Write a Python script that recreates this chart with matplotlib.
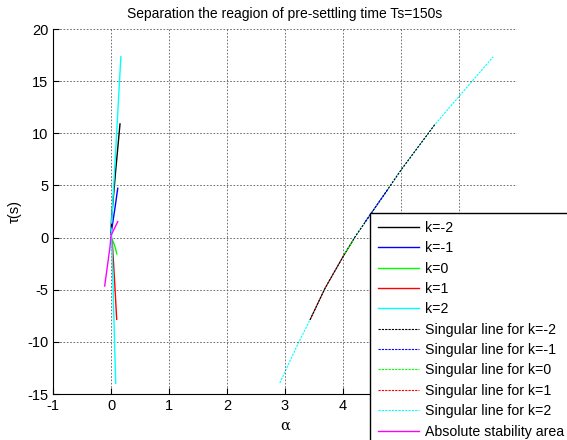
import numpy as np
import matplotlib
matplotlib.use("Agg")
import matplotlib.pyplot as plt

# 左側の曲線 (alpha, tau)
k_m2_a = [0.0, 0.01, 0.08, 0.155]
k_m2_t = [0.5, 1.9, 6.4, 10.9]
k_m1_a = [0.0, 0.02, 0.07, 0.116]
k_m1_t = [0.3, 1.05, 2.9, 4.73]
k_0_a = [0.01, 0.05, 0.075, 0.10]
k_0_t = [-0.07, -0.55, -1.0, -1.57]
k_1_a = [0.0, 0.02, 0.06, 0.098]
k_1_t = [0.0, -0.23, -4.0, -7.84]
k_2_up_a = [0.01, 0.09, 0.17]
k_2_up_t = [1.4, 9.3, 17.35]
k_2_dn_a = [0.0, 0.01, 0.045, 0.081]
k_2_dn_t = [0.9, 0.44, -6.8, -13.97]
stab_a = [-0.109, -0.017, 0.0, 0.116]
stab_t = [-4.64, -0.87, 0.2, 1.53]

# 特異線 (右側)
sing_m2_a = [3.43, 3.69, 4.0, 4.21, 5.0, 5.59]
sing_m2_t = [-7.9, -4.86, -1.83, 0.09, 6.48, 10.89]
sing_m1_a = [4.38, 4.78]
sing_m1_t = [1.5, 4.66]
sing_0_a = [4.17, 4.01]
sing_0_t = [-0.3, -1.7]
sing_1_a = [4.17, 4.0, 3.69, 3.43]
sing_1_t = [-0.3, -1.83, -4.86, -7.9]
sing_2_a = [2.91, 3.23, 3.43, 3.69, 4.0, 4.21, 5.0, 5.59, 6.59]
sing_2_t = [-13.94, -10.1, -7.9, -4.86, -1.83, 0.09, 6.48, 10.89, 17.34]

xtick_vals = np.arange(-1, 8)
xtick_labels = ['-1', '0', '1', '2', '3', '4', '5', '', '']

plt.rcParams['font.family'] = ['Liberation Sans', 'DejaVu Sans']
plt.rcParams['axes.unicode_minus'] = False

fig = plt.figure(figsize=(5.67, 4.40), dpi=100)
ax = fig.add_axes([0.0935, 0.1045, 0.8183, 0.8295])

lw = 1.0
ds = (0, (2, 1))
ax.plot(k_m2_a, k_m2_t, color='k', lw=lw, label='k=-2')
ax.plot(k_m1_a, k_m1_t, color='b', lw=lw, label='k=-1')
ax.plot(k_0_a, k_0_t, color='#00ff00', lw=lw, label='k=0')
ax.plot(k_1_a, k_1_t, color='r', lw=lw, label='k=1')
ax.plot(k_2_up_a, k_2_up_t, color='#00ffff', lw=lw, label='k=2')
ax.plot(k_2_dn_a, k_2_dn_t, color='#00ffff', lw=lw)

ax.plot(sing_2_a, sing_2_t, color='#00ffff', lw=0.8, ls=ds, zorder=1)
ax.plot(sing_1_a, sing_1_t, color='r', lw=0.8, ls=ds, zorder=1.5)
ax.plot(sing_m2_a, sing_m2_t, color='k', lw=0.8, ls=ds, zorder=2,
        label='Singular line for k=-2')
ax.plot(sing_m1_a, sing_m1_t, color='b', lw=0.8, ls=ds, label='Singular line for k=-1')
ax.plot(sing_0_a, sing_0_t, color='#00ff00', lw=0.8, ls=ds, label='Singular line for k=0')
ax.plot([], [], color='r', lw=0.8, ls=ds, label='Singular line for k=1')
ax.plot([], [], color='#00ffff', lw=0.8, ls=ds, label='Singular line for k=2')
ax.plot(stab_a, stab_t, color='#ff00ff', lw=lw, label='Absolute stability area')

ax.set_xlim(-1, 7)
ax.set_ylim(-15, 20)
ax.set_xticks(xtick_vals)
ax.set_xticklabels(xtick_labels)
ax.set_yticks(np.arange(-15, 21, 5))
ax.grid(True, color='0.35', ls=(0, (2, 2)), lw=0.6)
ax.spines['top'].set_visible(False)
ax.spines['right'].set_visible(False)
ax.tick_params(direction='in', labelsize=10.5, length=4)
ax.set_title('Separation the reagion of pre-settling time Ts=150s', fontsize=10, pad=8)
ax.set_xlabel('α', fontsize=10.5, family='DejaVu Serif')
ax.set_ylabel('τ(s)', fontsize=10.5)

leg = ax.legend(loc='upper left', bbox_to_anchor=(0.6526, 0.516),
                bbox_transform=fig.transFigure, fontsize=10.2, frameon=True,
                fancybox=False, edgecolor='k', framealpha=1,
                handlelength=2.9, handletextpad=0.4, labelspacing=0.45,
                borderpad=0.55, borderaxespad=0)
leg.get_frame().set_linewidth(1.0)

fig.savefig('out.png', dpi=100)
